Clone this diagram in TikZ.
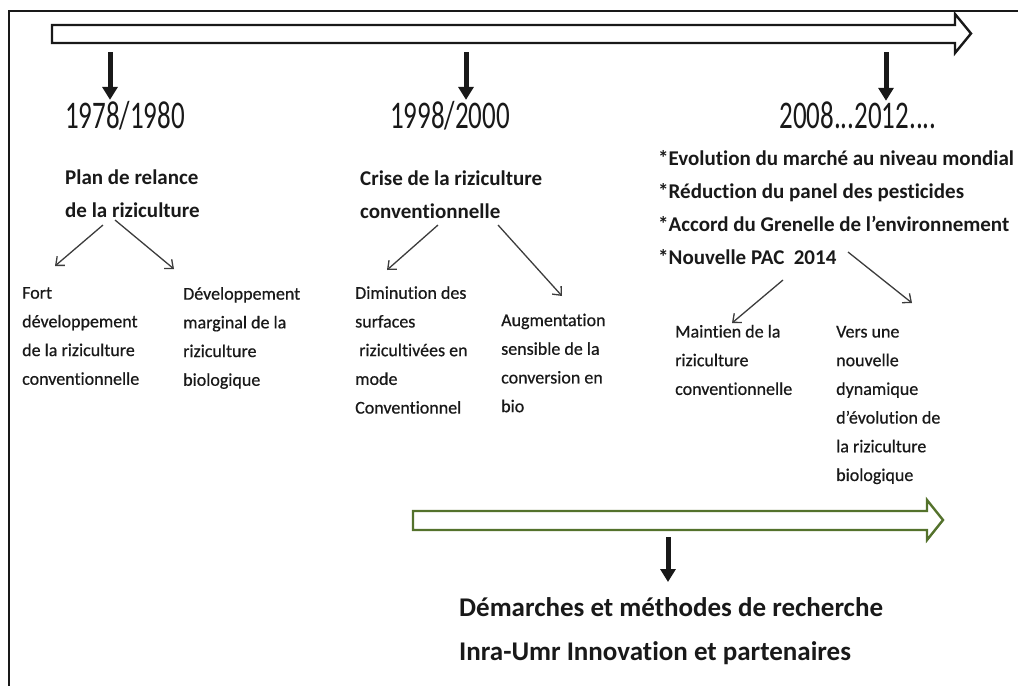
\documentclass[tikz,border=0pt]{standalone}
\usepackage{fontspec}
\setmainfont[Ligatures={NoCommon,NoContextual}, Contextuals=NoAlternate]{Carlito}
\newfontfamily\smallfont[Ligatures={NoCommon,NoContextual}, Contextuals=NoAlternate, FakeBold=0.6]{Carlito}
\usepackage{graphicx}
\usetikzlibrary{arrows.meta}
\definecolor{inkgray}{RGB}{25,25,25}
\definecolor{arrowgray}{RGB}{60,60,60}
\definecolor{olive}{RGB}{84,114,44}
\tikzset{
    >={Straight Barb[length=7pt,width=12pt]}, % open heads on the thin arrows
    branch/.style={->, draw=arrowgray, line width=1.3pt}, % thin arrows under the titles
    drop/.style={-{Triangle[length=13pt,width=15pt]}, draw=inkgray, fill=inkgray, line width=5pt}, % thick down arrows
    bigarrow/.style={line width=2.4pt, line join=miter, fill=white}, % hollow block arrows
    year/.style={font=\fontsize{27}{30}\selectfont, text=inkgray, inner sep=1pt},
    title/.style={font=\bfseries\fontsize{21}{33}\selectfont, text=inkgray, align=left, inner sep=0pt, anchor=west},
    small/.style={font=\smallfont\fontsize{18}{28.7}\selectfont, text=inkgray, align=left, inner sep=0pt, anchor=west},
    }

\begin{document}
\begin{tikzpicture}[x=1pt, y=-1pt]
\useasboundingbox (0,0) rectangle (1018,686);
% frame, cut on the right and at the bottom
\draw[line width=2pt, draw=inkgray] (1018,11) -- (9,11) -- (9,686);
% time line
\draw[bigarrow, draw=inkgray] (52,25) -- (955,25) -- (955,14) -- (971,33.5) -- (955,53) -- (955,43) -- (52,43) -- cycle;

\node[year] (y1) at (125,115.5) {\scalebox{1}[1.45]{1978/1980}};
\node[year] (y2) at (450,115.5) {\scalebox{1}[1.45]{1998/2000}};
\node[year] (y3) at (858,115.5) {\scalebox{1}[1.45]{2008...2012....}};
\coordinate (t1) at (110,52);
\coordinate (t2) at (466,52);
\coordinate (t3) at (886,52);
\draw[drop] (t1) -- (t1 |- y1.north);
\draw[drop] (t2) -- (t2 |- y2.north);
\draw[drop] (t3) -- (t3 |- y3.north);

% first period
\node[title] (plan) at (65,194) {Plan de relance\\de la riziculture};
\node[small] (fort) at (22,336) {Fort\\développement\\de la riziculture\\conventionnelle};
\node[small] (marg) at (183,338) {Développement\\marginal de la\\riziculture\\biologique};
\coordinate (p1) at (103,225); \coordinate (p2) at (55,266);
\coordinate (p3) at (115,220); \coordinate (p4) at (174,269);
\draw (p1) edge[branch] (p2)
      (p3) edge[branch] (p4);

% second period
\node[title] (crise) at (360,195) {Crise de la riziculture\\conventionnelle};
\node[small] (dimin) at (355,350) {Diminution des\\surfaces\\\hspace*{4pt}rizicultivées en\\mode\\Conventionnel};
\node[small] (augm) at (501,363) {Augmentation\\sensible de la\\conversion en\\bio};
\coordinate (c1) at (438,225); \coordinate (c2) at (387,270);
\coordinate (c3) at (498,225); \coordinate (c4) at (562,296);
\draw (c1) edge[branch] (c2)
      (c3) edge[branch] (c4);

% third period
\node[title] (facts) at (658,208) {*Evolution du marché au niveau mondial\\*Réduction du panel des pesticides\\*Accord du Grenelle de l’environnement\\*Nouvelle PAC~ 2014};
\node[small] (maint) at (675,360) {Maintien de la\\riziculture\\conventionnelle};
\node[small] (vers) at (836,405) {Vers une\\nouvelle\\dynamique\\d’évolution de\\la riziculture\\biologique};
\coordinate (f1) at (783,280); \coordinate (f2) at (732,323);
\coordinate (f3) at (848,252); \coordinate (f4) at (912,303);
\draw (f1) edge[branch] (f2)
      (f3) edge[branch] (f4);

% research
\draw[bigarrow, draw=olive] (413,511) -- (927,511) -- (927,500) -- (943,520) -- (927,540) -- (927,530) -- (413,530) -- cycle;
\coordinate (g1) at (668,537);
\coordinate (g2) at (668,582);
\draw[drop] (g1) -- (g2);
\node[font=\bfseries\fontsize{27}{44}\selectfont, text=inkgray, align=left, inner sep=0pt, anchor=west] (demarche) at (459,631) {Démarches et méthodes de recherche\\Inra-Umr Innovation et partenaires};
\end{tikzpicture}
\end{document}
